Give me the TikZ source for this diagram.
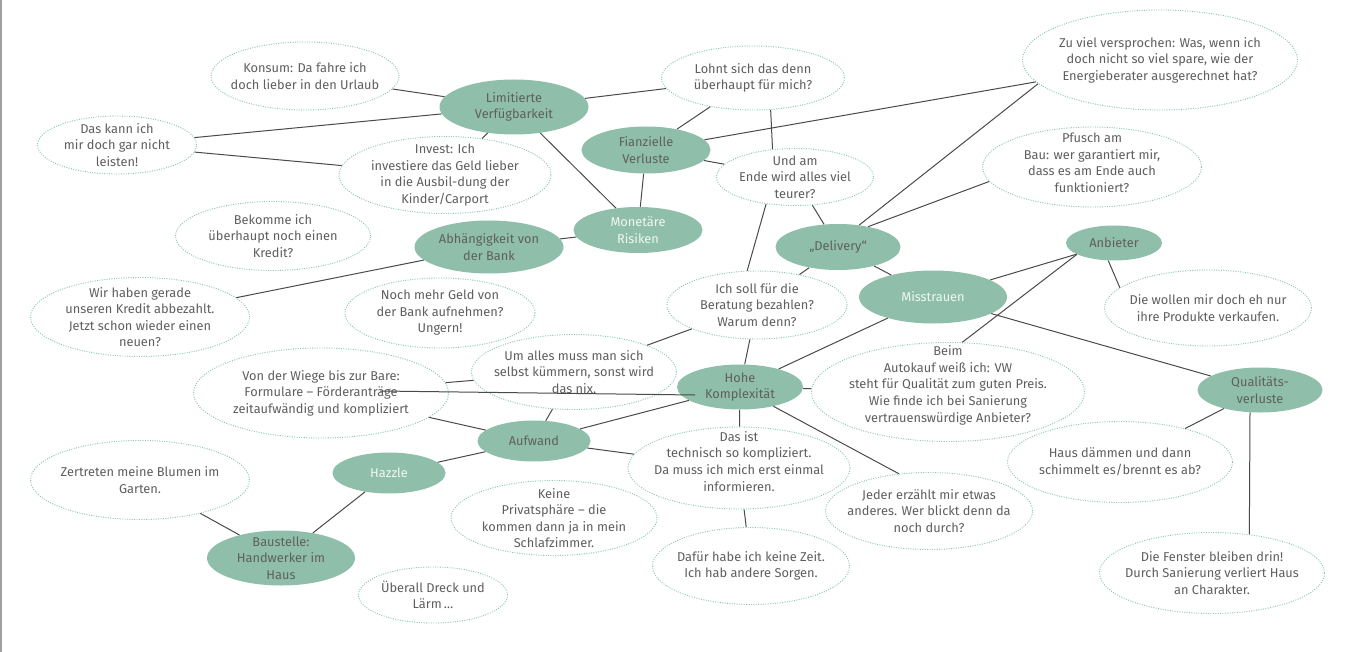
\documentclass[tikz,border=0pt]{standalone}
\usepackage{fontspec}
\setmainfont{Fira Sans}
\usetikzlibrary{shapes.geometric}
\definecolor{fillg}{HTML}{8FBFAA}
\definecolor{dotc}{HTML}{86C4B4}
\definecolor{txtg}{HTML}{5F5F5F}
\definecolor{edgec}{HTML}{4A4A4A}
\definecolor{whitet}{HTML}{F2F7F4}
\definecolor{framec}{HTML}{A0A0A0}
\tikzset{
  sz/.style 2 args={minimum width=#1*0.75pt, minimum height=#2*0.75pt},
  basebub/.style={ellipse, inner sep=0pt},
  bubble/.style={basebub, draw=dotc, line width=0.7pt, dash pattern=on 0.7pt off 1.1pt},
  topic/.style={basebub, fill=fillg},
  every label/.style={align=center, text=txtg, font=\fontsize{9.6}{12.4}\selectfont, inner sep=0pt},
  wlab/.style={text=whitet},
  link/.style={draw=edgec, line width=0.75pt},
}
\begin{document}
\begin{tikzpicture}[x=0.75pt, y=-0.75pt]
\useasboundingbox (0,0) rectangle (1348,652);
\fill[white] (0,0) rectangle (1348,652);
\draw[framec, line width=1.5pt] (1,0) -- (1,652);

% topics
\node[topic, sz={149}{55}, label={center:{Limitierte\\Verfügbarkeit}}] (limit) at (514,107) {};
\node[topic, sz={129}{47}, label={center:{Fianzielle\\Verluste}}] (fianz) at (646,150) {};
\node[topic, sz={129}{46}, label={[wlab]center:{Monetäre\\Risiken}}] (monet) at (638,230) {};
\node[topic, sz={149}{53}, label={center:{Abhängigkeit von\\der Bank}}] (abh) at (489,247) {};
\node[topic, sz={125}{46}, label={center:{„Delivery“}}] (deliv) at (838,247) {};
\node[topic, sz={148}{53}, label={[wlab]center:{Misstrauen}}] (misst) at (933,297) {};
\node[topic, sz={96}{35}, label={center:{Anbieter}}] (anbiet) at (1114,243) {};
\node[topic, sz={125}{45}, label={center:{Qualitäts-\\verluste}}] (qual) at (1260,390) {};
\node[topic, sz={126}{45}, label={center:{Hohe\\Komplexität}}] (hohe) at (740,387) {};
\node[topic, sz={113}{41}, label={center:{Aufwand}}] (aufw) at (534,441) {};
\node[topic, sz={113}{41}, label={[wlab]center:{Hazzle}}] (hazzle) at (389,473) {};
\node[topic, sz={148}{55}, label={center:{Baustelle:\\Handwerker im\\Haus}}] (baust) at (281,558) {};

% bubbles
\node[bubble, sz={188}{68}, label={center:{Konsum: Da fahre ich\\doch lieber in den Urlaub}}] (konsum) at (305,76) {};
\node[bubble, sz={159}{58}, label={center:{Das kann ich\\mir doch gar nicht\\leisten!}}] (daskann) at (117,145) {};
\node[bubble, sz={212}{77}, label={center:{Invest: Ich\\investiere das Geld lieber\\in die Ausbil-dung der\\Kinder/Carport}}] (invest) at (445,175) {};
\node[bubble, sz={183}{64}, label={center:{Lohnt sich das denn\\überhaupt für mich?}}] (lohnt) at (753,78) {};
\node[bubble, sz={275}{100}, label={center:{Zu viel versprochen: Was, wenn ich\\doch nicht so viel spare, wie der\\Energieberater ausgerechnet hat?}}] (zuviel) at (1160,60) {};
\node[bubble, sz={157}{57}, label={center:{Und am\\Ende wird alles viel\\teurer?}}] (undam) at (795,177) {};
\node[bubble, sz={219}{80}, label={[yshift=3pt]center:{Pfusch am\\Bau: wer garantiert mir,\\dass es am Ende auch\\funktioniert?}}] (pfusch) at (1092,167) {};
\node[bubble, sz={195}{69}, label={center:{Bekomme ich\\überhaupt noch einen\\Kredit?}}] (bekomme) at (273,236) {};
\node[bubble, sz={219}{79}, label={center:{Wir haben gerade\\unseren Kredit abbezahlt.\\Jetzt schon wieder einen\\neuen?}}] (wirhaben) at (140,317) {};
\node[bubble, sz={190}{70}, label={center:{Noch mehr Geld von\\der Bank aufnehmen?\\Ungern!}}] (nochmehr) at (440,313) {};
\node[bubble, sz={180}{68}, label={center:{Ich soll für die\\Beratung bezahlen?\\Warum denn?}}] (ichsoll) at (757,305) {};
\node[bubble, sz={205}{75}, label={center:{Um alles muss man sich\\selbst kümmern, sonst wird\\das nix.}}] (umalles) at (574,372) {};
\node[bubble, sz={255}{90}, label={center:{Von der Wiege bis zur Bare:\\Formulare – Förderanträge\\zeitaufwändig und kompliziert}}] (wiege) at (321,393) {};
\node[bubble, sz={273}{99}, label={[yshift=5pt]center:{Beim\\Autokauf weiß ich: VW\\steht für Qualität zum guten Preis.\\Wie finde ich bei Sanierung\\vertrauenswürdige Anbieter?}}] (beim) at (948,392) {};
\node[bubble, sz={222}{82}, label={[yshift=5pt]center:{Das ist\\technisch so kompliziert.\\Da muss ich mich erst einmal\\informieren.}}] (dasist) at (739,468) {};
\node[bubble, sz={207}{77}, label={center:{Jeder erzählt mir etwas\\anderes. Wer blickt denn da\\noch durch?}}] (jeder) at (929,511) {};
\node[bubble, sz={225}{81}, label={center:{Haus dämmen und dann\\schimmelt es/brennt es ab?}}] (haus) at (1120,462) {};
\node[bubble, sz={207}{76}, label={center:{Die wollen mir doch eh nur\\ihre Produkte verkaufen.}}] (diewollen) at (1208,308) {};
\node[bubble, sz={225}{81}, label={center:{Die Fenster bleiben drin!\\Durch Sanierung verliert Haus\\an Charakter.}}] (fenster) at (1212,573) {};
\node[bubble, sz={197}{77}, label={center:{Dafür habe ich keine Zeit.\\Ich hab andere Sorgen.}}] (dafuer) at (751,566) {};
\node[bubble, sz={206}{75}, label={center:{Keine\\Privatsphäre – die\\kommen dann ja in mein\\Schlafzimmer.}}] (keine) at (554,518) {};
\node[bubble, sz={149}{56}, label={center:{Überall Dreck und\\Lärm\,…}}] (ueberall) at (433,595) {};
\node[bubble, sz={219}{79}, label={center:{Zertreten meine Blumen im\\Garten.}}] (zertreten) at (140,480) {};

% connectors
\path[link] (konsum) -- (limit);
\path[link] (daskann) -- (limit);
\path[link] (daskann) -- (invest);
\path[link] (invest) -- (limit);
\path[link] (limit) -- (lohnt);
\path[link] (limit) -- (monet);
\path[link] (lohnt) -- (fianz);
\path[link] (lohnt.-61) -- (undam.129);
\path[link] (fianz) -- (zuviel.190);
\path[link] (fianz) -- (undam);
\path[link] (fianz) -- (monet);
\path[link] (monet) -- (abh);
\path[link] (abh) -- (wirhaben);
\path[link] (undam) -- (deliv);
\path[link] (undam.-137) -- (ichsoll.106);
\path[link] (zuviel.-169) -- (deliv.46);
\path[link] (pfusch.-172) -- (deliv.34);
\path[link] (deliv) -- (ichsoll);
\path[link] (deliv) -- (misst);
\path[link] (misst) -- (anbiet);
\path[link] (anbiet.-163) -- (beim.74);
\path[link] (anbiet.-108) -- (diewollen.167);
\path[link] (misst) -- (qual);
\path[link] (misst) -- (hohe);
\path[link] (qual) -- (haus);
\path[link] (qual.-114) -- (fenster.46);
\path[link] (ichsoll) -- (hohe);
\path[link] (ichsoll) -- (umalles);
\path[link] (hohe) -- (beim);
\path[link] (hohe) -- (dasist);
\path[link] (hohe.-30) -- (jeder.129);
\path[link] (hohe) -- (aufw);
\path[link] (umalles) -- (aufw);
\path[link] (umalles) -- (wiege);
\path[link] (wiege) -- (aufw);
\path[link] (aufw) -- (dasist);
\path[link] (aufw) -- (hazzle);
\path[link] (hazzle) -- (baust);
\path[link] (zertreten) -- (baust);
\path[link] (dasist) -- (dafuer);
\path[link] ([shift={(59,-2)}]wiege.center) -- ([shift={(-45,8)}]hohe.center);
\end{tikzpicture}
\end{document}
